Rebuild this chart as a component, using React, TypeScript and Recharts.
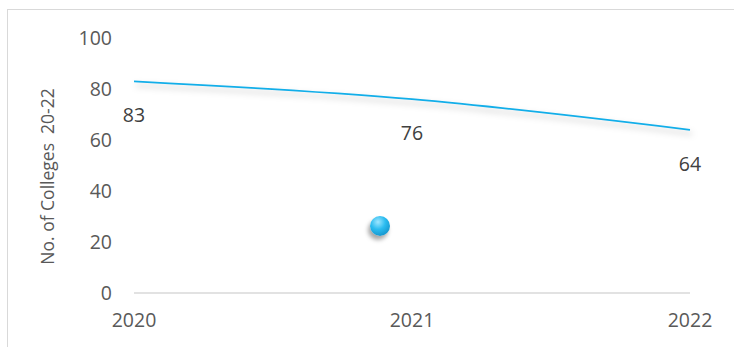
import React from 'react';
import { LineChart, Line, XAxis, YAxis, LabelList, Label } from 'recharts';

const years = ['2020', '2021', '2022'];
const colleges = [83, 76, 64];
const yTicks = [0, 20, 40, 60, 80, 100];

const data = years.map((year, i) => ({ year, colleges: colleges[i] }));

const FONT = '"Open Sans", sans-serif';
const TEXT = '#595959';

const renderAxisTitle = (props: any) => {
  const vb = props.viewBox || {};
  const cx = vb.x - 27;
  const cy = vb.y + vb.height / 2 + 11;
  return (
    <text
      x={cx}
      y={cy}
      transform={`rotate(-90 ${cx} ${cy})`}
      textAnchor="middle"
      dominantBaseline="central"
      fill={TEXT}
      fontSize={17.5}
      fontFamily={FONT}
    >
      No. of Colleges&#160;&#160;20-22
    </text>
  );
};

const App: React.FC = () => {
  return (
    <div style={{ position: 'absolute', left: 0, top: 0, width: 734, height: 347, overflow: 'hidden', background: '#fff' }}>
      <style>{`.recharts-line-curve { filter: drop-shadow(2px 4px 3px rgba(0,0,0,0.25)); }`}</style>
      <div
        style={{
          position: 'absolute',
          left: 7,
          top: 9,
          width: 800,
          height: 400,
          border: '1.5px solid #d9d9d9',
        }}
      />
      <div style={{ position: 'absolute', left: 0, top: 0 }}>
        <LineChart
          width={734}
          height={347}
          data={data}
          margin={{ top: 38, right: 44, bottom: 0, left: 74 }}
        >
          <XAxis
            dataKey="year"
            height={54}
            tickLine={false}
            tickSize={0}
            tickMargin={20}
            stroke="#d9d9d9"
            strokeWidth={1.5}
            tick={{ fill: TEXT, fontSize: 19.5, fontFamily: FONT }}
            padding={{ left: 0, right: 0 }}
          />
          <YAxis
            width={60}
            domain={[0, 100]}
            ticks={yTicks}
            axisLine={false}
            tickLine={false}
            tickSize={0}
            tickMargin={22}
            tick={{ fill: TEXT, fontSize: 19.5, fontFamily: FONT }}
          >
            <Label content={renderAxisTitle} />
          </YAxis>
          <Line
            type="monotone"
            dataKey="colleges"
            stroke="#12aee9"
            strokeWidth={1.8}
            dot={false}
            activeDot={false}
            isAnimationActive={false}
          >
            <LabelList
              dataKey="colleges"
              position="bottom"
              offset={27}
              fill="#404040"
              fontSize={19.5}
              fontFamily={FONT}
            />
          </Line>
        </LineChart>
      </div>
      <div
        style={{
          position: 'absolute',
          left: 370,
          top: 216,
          width: 20,
          height: 20,
          borderRadius: '50%',
          background: 'radial-gradient(circle at 40% 30%, #9fe6ff 0%, #2bbcf0 40%, #0a7fb8 100%)',
          boxShadow: '-2px 4px 4px rgba(0,0,0,0.35)',
        }}
      />
    </div>
  );
};

export default App;
